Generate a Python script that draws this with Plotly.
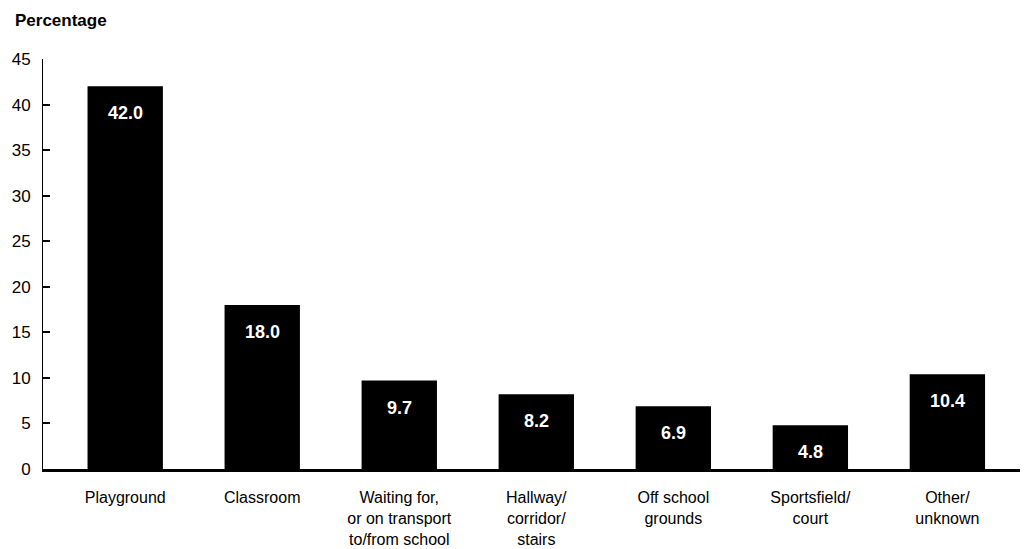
import plotly.graph_objects as go

categories = ["Playground", "Classroom", "Waiting for,<br>or on transport<br>to/from school",
              "Hallway/<br>corridor/<br>stairs", "Off school<br>grounds", "Sportsfield/<br>court",
              "Other/<br>unknown"]
values = [42.0, 18.0, 9.7, 8.2, 6.9, 4.8, 10.4]
y_ticks = [0, 5, 10, 15, 20, 25, 30, 35, 40, 45]

FONT = "Liberation Sans Narrow, Arial Narrow, Liberation Sans, sans-serif"

fig = go.Figure()
fig.add_trace(go.Bar(
    x=list(range(len(categories))), y=values,
    marker=dict(color="black", line=dict(width=0)),
    width=0.55, hoverinfo="skip",
))

for i, v in enumerate(values):
    fig.add_annotation(x=i, y=v, text=f"<b>{v:.1f}</b>", showarrow=False,
                       yshift=-27, font=dict(family=FONT, size=18, color="white"))

fig.add_annotation(xref="paper", yref="paper", x=-0.031, y=1.095, xanchor="left",
                   yanchor="middle", text="<b>Percentage</b>", showarrow=False,
                   font=dict(family=FONT, size=17, color="black"))

fig.update_layout(
    width=1030, height=549,
    margin=dict(l=35, r=18, t=51, b=88, autoexpand=False),
    plot_bgcolor="white", paper_bgcolor="white",
    showlegend=False,
    font=dict(family=FONT, size=16, color="black"),
    xaxis=dict(
        range=[-0.6, 6.53], automargin=False,
        tickmode="array", tickvals=list(range(len(categories))), ticktext=categories,
        showline=True, linecolor="black", linewidth=3,
        showgrid=False, zeroline=False, ticks="",
        ticklabelstandoff=12,
        tickfont=dict(family=FONT, size=16),
    ),
    yaxis=dict(
        range=[0, 45], tickmode="array", tickvals=y_ticks, automargin=False,
        showline=True, linecolor="black", linewidth=1,
        showgrid=False, zeroline=False,
        ticks="inside", ticklen=7, tickwidth=2, tickcolor="black",
        ticklabelstandoff=8,
        tickfont=dict(family=FONT, size=17),
    ),
)

fig.write_html("out.html")
